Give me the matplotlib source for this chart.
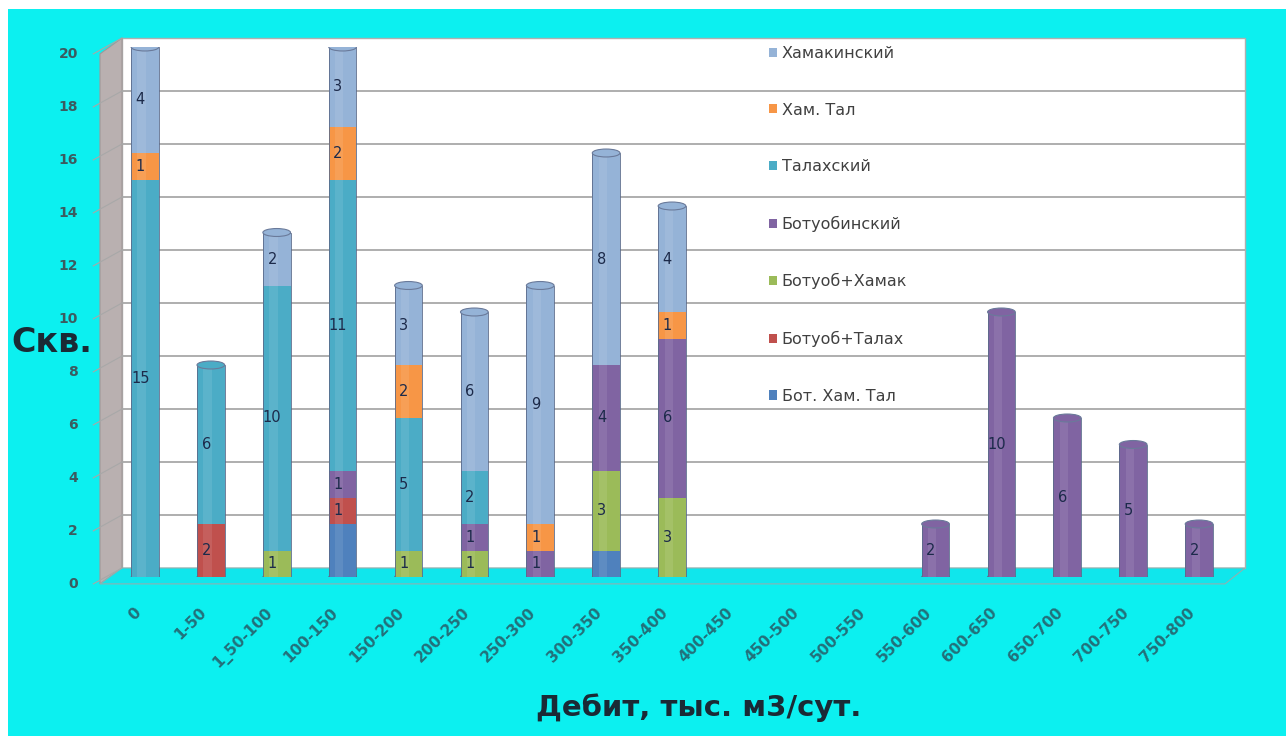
import matplotlib
matplotlib.use("Agg")
import numpy as np
import matplotlib.pyplot as plt
from matplotlib.patches import Rectangle, Polygon, Ellipse, Patch
from matplotlib.transforms import ScaledTranslation

# categories on the x axis
categories = ['0', '1-50', '1_50-100', '100-150', '150-200', '200-250', '250-300',
              '300-350', '350-400', '400-450', '450-500', '500-550', '550-600',
              '600-650', '650-700', '700-750', '750-800']

# series, stacked bottom -> top
bot_ham_tal = [0, 0, 0, 2, 0, 0, 0, 1, 0, 0, 0, 0, 0, 0, 0, 0, 0]
botuob_talah = [0, 2, 0, 1, 0, 0, 0, 0, 0, 0, 0, 0, 0, 0, 0, 0, 0]
botuob_hamak = [0, 0, 1, 0, 1, 1, 0, 3, 3, 0, 0, 0, 0, 0, 0, 0, 0]
botuobinsky = [0, 0, 0, 1, 0, 1, 1, 4, 6, 0, 0, 0, 2, 10, 6, 5, 2]
talahsky = [15, 6, 10, 11, 5, 2, 0, 0, 0, 0, 0, 0, 0, 0, 0, 0, 0]
ham_tal = [1, 0, 0, 2, 2, 0, 1, 0, 1, 0, 0, 0, 0, 0, 0, 0, 0]
hamakinsky = [4, 0, 2, 3, 3, 6, 9, 8, 4, 0, 0, 0, 0, 0, 0, 0, 0]

series = [
    ("Бот. Хам. Тал", bot_ham_tal, "#4F81BD", False),
    ("Ботуоб+Талах", botuob_talah, "#C0504D", True),
    ("Ботуоб+Хамак", botuob_hamak, "#9BBB59", True),
    ("Ботуобинский", botuobinsky, "#8064A2", True),
    ("Талахский", talahsky, "#4BACC6", True),
    ("Хам. Тал", ham_tal, "#F79646", True),
    ("Хамакинский", hamakinsky, "#95B3D7", True),
]

y_ticks = [0, 2, 4, 6, 8, 10, 12, 14, 16, 18, 20]

W, H = 1286, 736
CYAN = "#0cf0f0"

fig = plt.figure(figsize=(W / 100, H / 100), dpi=100, facecolor="white")
fig.patches.append(Rectangle((8 / W, 0), 1, 1 - 9 / H, transform=fig.transFigure,
                             facecolor=CYAN, edgecolor="none", zorder=-5))

ax = fig.add_axes([112 / W, 1 - 577 / H, 1120 / W, 530 / H])
ax.set_facecolor("none")
ax.set_xlim(-0.5, len(categories) - 0.5)
ax.set_ylim(0, 20)
for s in ax.spines.values():
    s.set_visible(False)

yax = ax.get_yaxis_transform()
back = yax + ScaledTranslation(0, 9 / 100, fig.dpi_scale_trans)
front = yax + ScaledTranslation(0, -7 / 100, fig.dpi_scale_trans)

# back wall, side wall, floor
xb0, xb1 = (122 - 112) / 1120, (1245 - 112) / 1120
xf0, xf1 = (100 - 112) / 1120, (1225 - 112) / 1120
ax.add_patch(Rectangle((xb0, 0), xb1 - xb0, 20, transform=back, facecolor="white",
                       edgecolor="#b0b0b0", lw=1, zorder=0, clip_on=False))
ax.add_patch(Polygon([(xf0, -0.26), (xf0, 19.74), (xb0, 20.34), (xb0, 0.34)],
                     transform=yax, facecolor="#b9b0b0", edgecolor="#a09898",
                     lw=0.8, zorder=0.5, clip_on=False))
ax.add_patch(Polygon([(xb0, 0.34), (xb1, 0.34), (xf1, -0.26), (xf0, -0.26)],
                     transform=yax, facecolor="#10e6ec", edgecolor="#90b0b0",
                     lw=0.8, zorder=0.6, clip_on=False))
ax.hlines(y_ticks[1:-1], xb0, xb1, transform=back, colors="#a8a8a8", lw=1.3,
          zorder=1, clip_on=False)
for v in y_ticks:
    ax.plot([xf0 - 0.006, xb0], [v - 0.26, v + 0.34], transform=yax, color="#a8a8a8",
            lw=0.8, zorder=1, clip_on=False)

# y tick labels on the front edge
for v in y_ticks:
    ax.text((78 - 112) / 1120, v, str(v), transform=front, ha="right", va="center",
            fontsize=10, fontweight="bold", color="#3b5b60")

# stacked cylinders
x = np.arange(len(categories))
bw = 0.42
bottom = np.zeros(len(categories))
for name, vals, color, show in series:
    vals = np.array(vals, dtype=float)
    ax.bar(x, vals, bw, bottom=bottom, color=color, edgecolor="none", zorder=3)
    # soft highlight down the middle of each cylinder
    ax.bar(x - bw * 0.12, vals, bw * 0.3, bottom=bottom, color="white", alpha=0.09,
           edgecolor="none", zorder=3.1)
    for i, v in enumerate(vals):
        if v > 0 and show:
            ax.text(x[i] - 0.07, bottom[i] + v / 2, str(int(v)), ha="center",
                    va="center", fontsize=10.5, color="#1c2a4a", zorder=6)
    bottom = bottom + vals

# caps
totals = bottom
for i, t in enumerate(totals):
    if t <= 0:
        continue
    top_color = bottom_color = None
    for name, vals, color, show in series:
        if vals[i] > 0:
            if bottom_color is None:
                bottom_color = color
            top_color = color
    ax.add_patch(Ellipse((x[i], 0), bw, 0.3, facecolor=bottom_color,
                         edgecolor="#5a6a8a", lw=0.6, zorder=2.9))
    ax.add_patch(Ellipse((x[i], t), bw, 0.3, facecolor=top_color,
                         edgecolor="#6a7a9a", lw=0.8, zorder=4))
    ax.bar(x[i], t, bw, edgecolor="#5a6a8a", facecolor="none", lw=0.6, zorder=3.5)

# x tick labels
ax.set_xticks(x)
ax.set_xticklabels(categories, rotation=45, ha="right", va="top",
                   rotation_mode="anchor", fontsize=11, fontweight="bold",
                   color="#23707a")
ax.tick_params(axis="x", length=0, pad=20)
ax.set_yticks([])
for lbl in ax.get_xticklabels():
    lbl.set_transform(lbl.get_transform() + ScaledTranslation(-12 / 100, 0, fig.dpi_scale_trans))

fig.text(52 / W, 1 - 343 / H, "Скв.", ha="center", va="center", fontsize=24,
         fontweight="bold", color="#1a2a35")
fig.text(699 / W, 1 - 708 / H, "Дебит, тыс. м3/сут.", ha="center", va="center",
         fontsize=21, fontweight="bold", color="#1a2a35")

handles = [Patch(facecolor=c, edgecolor="none", label=n) for n, v, c, s in series][::-1]
fig.legend(handles=handles, loc="upper left", bbox_to_anchor=(761 / W, 1 - 38 / H),
           frameon=False, borderpad=0, handlelength=0.5, handleheight=0.5,
           handletextpad=0.3, fontsize=11.5, labelspacing=2.6, labelcolor="#404040")

fig.savefig("out.png", dpi=100, facecolor=fig.get_facecolor())
